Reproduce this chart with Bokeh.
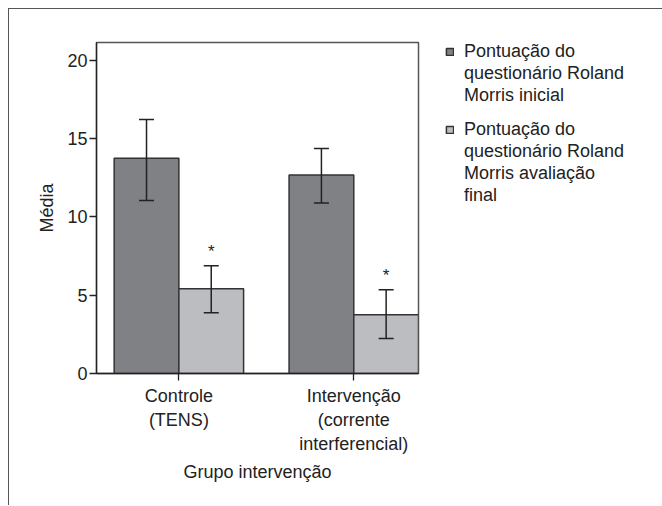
from bokeh.plotting import figure
from bokeh.models import ColumnDataSource, Whisker, TeeHead, Legend, LegendItem, FixedTicker, Range1d
from bokeh.embed import file_html
from bokeh.resources import INLINE
from bokeh.core.properties import value

# ---- data ----
groups = ["Controle\n(TENS)", "Intervenção\n(corrente\ninterferencial)"]
series_label_lines = [["Pontuação do", "questionário Roland", "Morris inicial"],
                      ["Pontuação do", "questionário Roland", "Morris avaliação", "final"]]
inicial = [13.76, 12.69]
inicial_low = [11.05, 10.90]
inicial_high = [16.23, 14.37]
final = [5.41, 3.75]
final_low = [3.88, 2.24]
final_high = [6.89, 5.35]
significance = ["*", "*"]
y_ticks = [0, 5, 10, 15, 20]

FONT = "Liberation Sans"
FS = "18px"
TXT = "#222222"
DARK = "#808184"
LIGHT = "#bcbdc0"
BAR_W = 0.37

xc = list(range(len(groups)))
x_dark = [c - BAR_W / 2 for c in xc]
x_light = [c + BAR_W / 2 for c in xc]

p = figure(frame_width=322, frame_height=331, output_backend="svg", toolbar_location=None,
           x_range=Range1d(-0.471, 1.37), y_range=Range1d(0, 21.15),
           min_border_left=87, min_border_right=243, min_border_top=33, min_border_bottom=132)
p.styles = {"margin-left": "8px", "margin-top": "8px",
            "border-top": "1.5px solid #555555", "border-left": "1.5px solid #555555"}

src_d = ColumnDataSource(dict(x=x_dark, top=inicial, lo=inicial_low, hi=inicial_high))
src_l = ColumnDataSource(dict(x=x_light, top=final, lo=final_low, hi=final_high,
                              ast_y=[h + 0.9 for h in final_high], ast=significance))

r_dark = p.vbar(x="x", top="top", bottom=0, width=BAR_W, source=src_d,
                fill_color=DARK, line_color="#333333", line_width=1.5)
r_light = p.vbar(x="x", top="top", bottom=0, width=BAR_W, source=src_l,
                 fill_color=LIGHT, line_color="#333333", line_width=1.5)
# invisible renderer used for the continuation lines of the legend labels
r_blank = p.vbar(x=[], top=[], width=BAR_W, fill_alpha=0, line_alpha=0)

for s in (src_d, src_l):
    w = Whisker(base="x", lower="lo", upper="hi", source=s, level="overlay",
                line_color="#222222", line_width=1.5,
                upper_head=TeeHead(size=15, line_color="#222222", line_width=1.5),
                lower_head=TeeHead(size=15, line_color="#222222", line_width=1.5))
    p.add_layout(w)

p.text(x="x", y="ast_y", text="ast", source=src_l, text_align="center", text_baseline="middle",
       text_font=value(FONT), text_font_size="17px", text_color=TXT)

p.xgrid.visible = False
p.ygrid.visible = False
p.outline_line_color = "#555555"
p.outline_line_width = 1.5

p.yaxis.ticker = FixedTicker(ticks=y_ticks)
p.xaxis.ticker = FixedTicker(ticks=xc)
p.xaxis.major_label_overrides = {i: g for i, g in zip(xc, groups)}
for ax in (p.xaxis, p.yaxis):
    ax.minor_tick_line_color = None
    ax.major_tick_in = 0
    ax.major_tick_out = 7
    ax.axis_line_color = "#222222"
    ax.axis_line_width = 1.3
    ax.major_tick_line_color = "#222222"
    ax.major_tick_line_width = 1.3
    ax.major_label_text_font = FONT
    ax.major_label_text_font_size = FS
    ax.major_label_text_color = TXT
    ax.axis_label_text_font = FONT
    ax.axis_label_text_font_size = FS
    ax.axis_label_text_font_style = "normal"
    ax.axis_label_text_color = TXT
p.yaxis.axis_label = "Média"
p.yaxis.axis_label_standoff = 7
p.yaxis.major_label_standoff = 2
p.xaxis.axis_label = "Grupo intervenção"
p.xaxis.axis_label_standoff = 5
p.xaxis.major_label_standoff = 5

items = []
for k, (lines, r) in enumerate(zip(series_label_lines, (r_dark, r_light))):
    if k > 0:
        items.append(LegendItem(label="", renderers=[r_blank]))
    for j, line in enumerate(lines):
        items.append(LegendItem(label=line, renderers=[r if j == 0 else r_blank]))

legend = Legend(items=items, location=(27, 167), border_line_color=None, background_fill_alpha=0,
                glyph_width=9, glyph_height=9, label_standoff=10, spacing=1, label_height=11,
                margin=0, padding=0,
                label_text_font=FONT, label_text_font_size=FS, label_text_color=TXT)
p.add_layout(legend, "right")

open("out.html", "w").write(file_html(p, INLINE))
